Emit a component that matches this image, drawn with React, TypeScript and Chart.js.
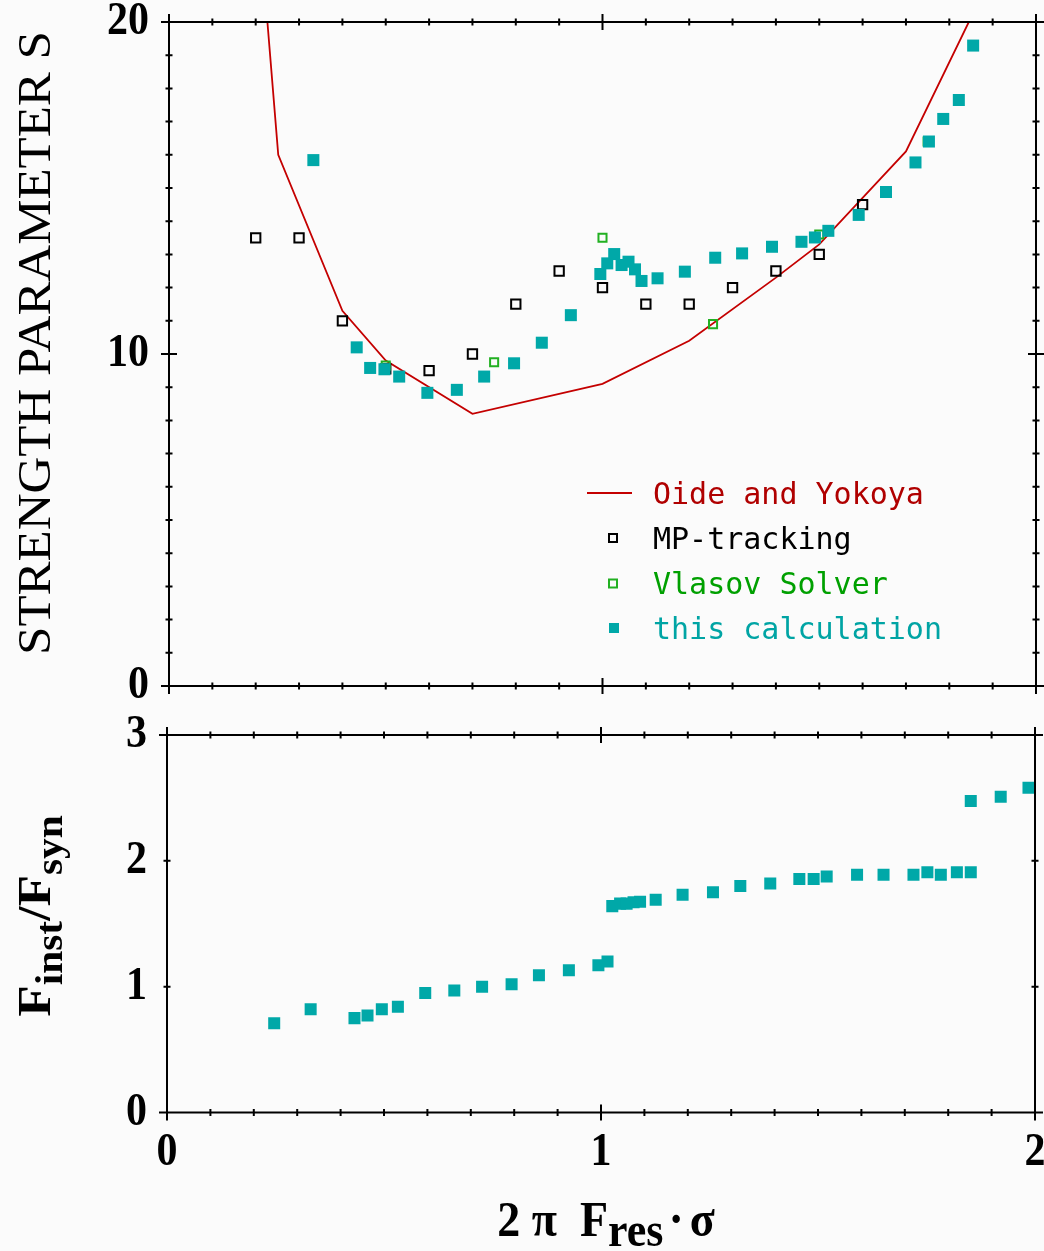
import React, { useEffect, useRef } from 'react';
import { Chart, registerables } from 'chart.js';

Chart.register(...registerables);

// Oide and Yokoya threshold curve (strength parameter S vs 2π·Fres·σ)
const OIDE_X = [0.227, 0.252, 0.4, 0.5, 0.7, 1.0, 1.2, 1.4, 1.5, 1.6, 1.7, 1.845];
const OIDE_S = [20.0, 16.0, 11.3, 9.8, 8.2, 9.1, 10.4, 12.3, 13.3, 14.7, 16.1, 20.0];

// Macro-particle tracking thresholds
const MP_X = [0.2, 0.3, 0.4, 0.5, 0.6, 0.7, 0.8, 0.9, 1.0, 1.1, 1.2, 1.3, 1.4, 1.5, 1.6];
const MP_S = [13.5, 13.5, 11.0, 9.55, 9.5, 10.0, 11.5, 12.5, 12.0, 11.5, 11.5, 12.0, 12.5, 13.0, 14.5];

// Vlasov solver thresholds
const VLASOV_X = [0.5, 0.75, 1.0, 1.255, 1.5, 1.75];
const VLASOV_S = [9.65, 9.75, 13.5, 10.9, 13.6, 16.4];

// This calculation: threshold strength
const CALC_X = [0.333, 0.433, 0.464, 0.497, 0.531, 0.596, 0.664, 0.727, 0.796, 0.86, 0.927, 0.995, 1.011,
  1.027, 1.044, 1.06, 1.075, 1.09, 1.127, 1.19, 1.26, 1.322, 1.391, 1.459, 1.49, 1.521, 1.591, 1.654,
  1.722, 1.753, 1.786, 1.822, 1.855];
const CALC_S = [15.84, 10.2, 9.58, 9.54, 9.32, 8.83, 8.92, 9.32, 9.72, 10.34, 11.17, 12.41, 12.73,
  13.01, 12.68, 12.78, 12.55, 12.2, 12.28, 12.48, 12.9, 13.03, 13.23, 13.38, 13.51, 13.71, 14.19, 14.88,
  15.77, 16.4, 17.08, 17.65, 19.29];

// This calculation: instability frequency over synchrotron frequency
const RATIO_X = [0.247, 0.331, 0.432, 0.462, 0.495, 0.532, 0.595, 0.662, 0.726, 0.794, 0.857, 0.926,
  0.994, 1.015, 1.026, 1.044, 1.059, 1.075, 1.09, 1.126, 1.188, 1.258, 1.321, 1.39, 1.457, 1.49, 1.52,
  1.59, 1.651, 1.72, 1.752, 1.783, 1.82, 1.852, 1.852, 1.921, 1.985];
const RATIO_F = [0.71, 0.82, 0.75, 0.77, 0.82, 0.84, 0.95, 0.97, 1.0, 1.02, 1.09, 1.13,
  1.17, 1.2, 1.64, 1.66, 1.66, 1.67, 1.675, 1.69, 1.73, 1.75, 1.8, 1.82, 1.855, 1.855, 1.876,
  1.89, 1.89, 1.89, 1.91, 1.89, 1.91, 1.91, 2.475, 2.51, 2.58];

// Axis ticks and labels
const X_TICKS = [0, 0.1, 0.2, 0.3, 0.4, 0.5, 0.6, 0.7, 0.8, 0.9, 1, 1.1, 1.2, 1.3, 1.4, 1.5, 1.6, 1.7, 1.8, 1.9, 2];
const X_TICK_LABELS = [0, 1, 2];
const S_TICKS = [0, 1, 2, 3, 4, 5, 6, 7, 8, 9, 10, 11, 12, 13, 14, 15, 16, 17, 18, 19, 20];
const S_TICK_LABELS = [0, 10, 20];
const F_TICKS = [0, 1, 2, 3];
const F_TICK_LABELS = [0, 1, 2, 3];

const LEGEND_LABELS = ['Oide and Yokoya', 'MP-tracking', 'Vlasov Solver', 'this calculation'];

const RED = '#c40000';
const RED_TEXT = '#b00000';
const GREEN = '#22b022';
const GREEN_TEXT = '#00a000';
const TEAL = '#00a8a8';
const TEAL_TEXT = '#00a4a4';

const STRETCH = 1.12;
const TICK_FONT = 'bold 42px "Liberation Serif", "Times New Roman", serif';

const pts = (xs: number[], ys: number[]) => xs.map((x, i) => ({ x, y: ys[i] }));

type Piece = { text: string; font: string; dy?: number; gap?: number };

function drawText(ctx: CanvasRenderingContext2D, text: string, x: number, y: number, font: string,
  color: string, align: CanvasTextAlign, baseline: CanvasTextBaseline) {
  ctx.save();
  ctx.translate(x, y);
  ctx.scale(1, STRETCH);
  ctx.font = font;
  ctx.fillStyle = color;
  ctx.textAlign = align;
  ctx.textBaseline = baseline;
  ctx.fillText(text, 0, 0);
  ctx.restore();
}

// Text runs with subscripts, centred on (x, y); optionally rotated to read bottom-to-top
function drawRich(ctx: CanvasRenderingContext2D, pieces: Piece[], x: number, y: number, rotate: boolean, color: string) {
  ctx.save();
  ctx.translate(x, y);
  if (rotate) {
    ctx.rotate(-Math.PI / 2);
    ctx.scale(STRETCH, 1);
  } else {
    ctx.scale(1, STRETCH);
  }
  ctx.fillStyle = color;
  ctx.textAlign = 'left';
  ctx.textBaseline = 'alphabetic';
  const widths = pieces.map((p) => {
    ctx.font = p.font;
    return ctx.measureText(p.text).width + (p.gap || 0);
  });
  const total = widths.reduce((a, b) => a + b, 0);
  let cx = -total / 2;
  pieces.forEach((p, i) => {
    ctx.font = p.font;
    ctx.fillText(p.text, cx + (p.gap || 0), p.dy || 0);
    cx += widths[i];
  });
  ctx.restore();
}

type FrameOpts = {
  yTicks: number[];
  yMajor: number[];
  yLabels: number[];
  xLabels: number[];
};

function framePlugin(id: string, o: FrameOpts) {
  return {
    id,
    afterDatasetsDraw(chart: Chart) {
      const { ctx, chartArea: a } = chart;
      const xs = chart.scales.x;
      const ys = chart.scales.y;
      ctx.save();
      ctx.strokeStyle = '#000';
      ctx.lineWidth = 2;
      ctx.beginPath();
      ctx.rect(a.left, a.top, a.right - a.left, a.bottom - a.top);
      for (const v of X_TICKS) {
        const px = xs.getPixelForValue(v);
        const h = X_TICK_LABELS.includes(v) ? 8 : 3.5;
        ctx.moveTo(px, a.top - h);
        ctx.lineTo(px, a.top + h);
        ctx.moveTo(px, a.bottom - h);
        ctx.lineTo(px, a.bottom + h);
      }
      for (const v of o.yTicks) {
        const py = ys.getPixelForValue(v);
        const h = o.yMajor.includes(v) ? 8 : 3.5;
        ctx.moveTo(a.left - h, py);
        ctx.lineTo(a.left + h, py);
        ctx.moveTo(a.right - h, py);
        ctx.lineTo(a.right + h, py);
      }
      ctx.stroke();
      for (const v of o.yLabels) {
        drawText(ctx, String(v), a.left - 20, ys.getPixelForValue(v), TICK_FONT, '#000', 'right', 'middle');
      }
      for (const v of o.xLabels) {
        drawText(ctx, String(v), xs.getPixelForValue(v), a.bottom + 40, TICK_FONT, '#000', 'center', 'middle');
      }
      ctx.restore();
    },
  };
}

const topDecor = {
  id: 'topDecor',
  afterDraw(chart: Chart) {
    const { ctx } = chart;
    ctx.save();
    // axis title
    drawRich(ctx, [{ text: 'STRENGTH PARAMETER S', font: '45.5px "Liberation Serif", "Times New Roman", serif' }],
      50, 343, true, '#000');
    // legend
    const rowY = [493, 538, 583.5, 628];
    const textColors = [RED_TEXT, '#000', GREEN_TEXT, TEAL_TEXT];
    ctx.strokeStyle = RED;
    ctx.lineWidth = 2;
    ctx.beginPath();
    ctx.moveTo(587, rowY[0]);
    ctx.lineTo(632, rowY[0]);
    ctx.stroke();
    ctx.lineWidth = 2;
    ctx.strokeStyle = '#000';
    ctx.strokeRect(609, rowY[1] - 4, 8, 8);
    ctx.strokeStyle = GREEN;
    ctx.strokeRect(609, rowY[2] - 4, 8, 8);
    ctx.fillStyle = TEAL;
    ctx.fillRect(609, rowY[3] - 5, 10, 10);
    ctx.font = '30px "DejaVu Sans Mono", monospace';
    ctx.textAlign = 'left';
    ctx.textBaseline = 'alphabetic';
    LEGEND_LABELS.forEach((t, i) => {
      ctx.fillStyle = textColors[i];
      ctx.fillText(t, 653, rowY[i] + 10.5);
    });
    ctx.restore();
  },
};

const bottomDecor = {
  id: 'bottomDecor',
  afterDraw(chart: Chart) {
    const { ctx } = chart;
    const main = 'bold 46px "Liberation Serif", "Times New Roman", serif';
    const sub = 'bold 37px "Liberation Serif", "Times New Roman", serif';
    drawRich(ctx, [
      { text: 'F', font: main },
      { text: 'inst', font: sub, dy: 12 },
      { text: '/', font: main },
      { text: 'F', font: main },
      { text: 'syn', font: sub, dy: 12 },
    ], 50, 216, true, '#000');
    const xm = 'bold 46px "Liberation Serif", "Times New Roman", serif';
    const xs = 'bold 44px "Liberation Serif", "Times New Roman", serif';
    drawRich(ctx, [
      { text: '2 \u03c0  F', font: xm },
      { text: 'res', font: xs, dy: 9 },
      { text: '\u00b7', font: xm, gap: 5 },
      { text: '\u03c3', font: xm, gap: 6 },
    ], 606, 536, false, '#000');
  },
};

const scatterBase = {
  type: 'scatter' as const,
};

export default function App() {
  const topRef = useRef<HTMLCanvasElement>(null);
  const botRef = useRef<HTMLCanvasElement>(null);

  useEffect(() => {
    const top = new Chart(topRef.current!, {
      ...scatterBase,
      data: {
        datasets: [
          {
            label: LEGEND_LABELS[0],
            data: pts(OIDE_X, OIDE_S),
            showLine: true,
            borderColor: RED,
            borderWidth: 1.8,
            pointRadius: 0,
            order: 4,
          },
          {
            label: LEGEND_LABELS[1],
            data: pts(MP_X, MP_S),
            pointStyle: 'rect',
            pointRadius: 6.6,
            borderColor: '#000',
            borderWidth: 2,
            backgroundColor: 'rgba(0,0,0,0)',
            order: 3,
          },
          {
            label: LEGEND_LABELS[2],
            data: pts(VLASOV_X, VLASOV_S),
            pointStyle: 'rect',
            pointRadius: 5.7,
            borderColor: GREEN,
            borderWidth: 2,
            backgroundColor: 'rgba(0,0,0,0)',
            order: 2,
          },
          {
            label: LEGEND_LABELS[3],
            data: pts(CALC_X, CALC_S),
            pointStyle: 'rect',
            pointRadius: 8.5,
            borderWidth: 0,
            backgroundColor: TEAL,
            order: 1,
          },
        ],
      },
      options: {
        responsive: false,
        animation: false,
        devicePixelRatio: 1,
        events: [],
        layout: { padding: { left: 169, top: 22, right: 44, bottom: 26 } },
        plugins: { legend: { display: false }, tooltip: { enabled: false } },
        scales: {
          x: { type: 'linear', display: false, min: 0, max: 2 },
          y: { type: 'linear', display: false, min: 0, max: 20 },
        },
      },
      plugins: [
        framePlugin('topFrame', { yTicks: S_TICKS, yMajor: S_TICK_LABELS, yLabels: S_TICK_LABELS, xLabels: [] }),
        topDecor,
      ],
    });

    const bot = new Chart(botRef.current!, {
      ...scatterBase,
      data: {
        datasets: [
          {
            label: LEGEND_LABELS[3],
            data: pts(RATIO_X, RATIO_F),
            pointStyle: 'rect',
            pointRadius: 8.5,
            borderWidth: 0,
            backgroundColor: TEAL,
          },
        ],
      },
      options: {
        responsive: false,
        animation: false,
        devicePixelRatio: 1,
        events: [],
        layout: { padding: { left: 167, top: 35, right: 45, bottom: 138.5 } },
        plugins: { legend: { display: false }, tooltip: { enabled: false } },
        scales: {
          x: { type: 'linear', display: false, min: 0, max: 2 },
          y: { type: 'linear', display: false, min: 0, max: 3 },
        },
      },
      plugins: [
        framePlugin('bottomFrame', { yTicks: F_TICKS, yMajor: [0, 3], yLabels: F_TICK_LABELS, xLabels: X_TICK_LABELS }),
        bottomDecor,
      ],
    });

    return () => {
      top.destroy();
      bot.destroy();
    };
  }, []);

  return (
    <div style={{ position: 'absolute', left: 0, top: 0, width: 1044, height: 1251, overflow: 'hidden', background: '#fbfbfb' }}>
      <canvas ref={topRef} width={1080} height={712}
        style={{ position: 'absolute', left: 0, top: 0, width: 1080, height: 712 }} />
      <canvas ref={botRef} width={1080} height={551}
        style={{ position: 'absolute', left: 0, top: 700, width: 1080, height: 551 }} />
    </div>
  );
}
